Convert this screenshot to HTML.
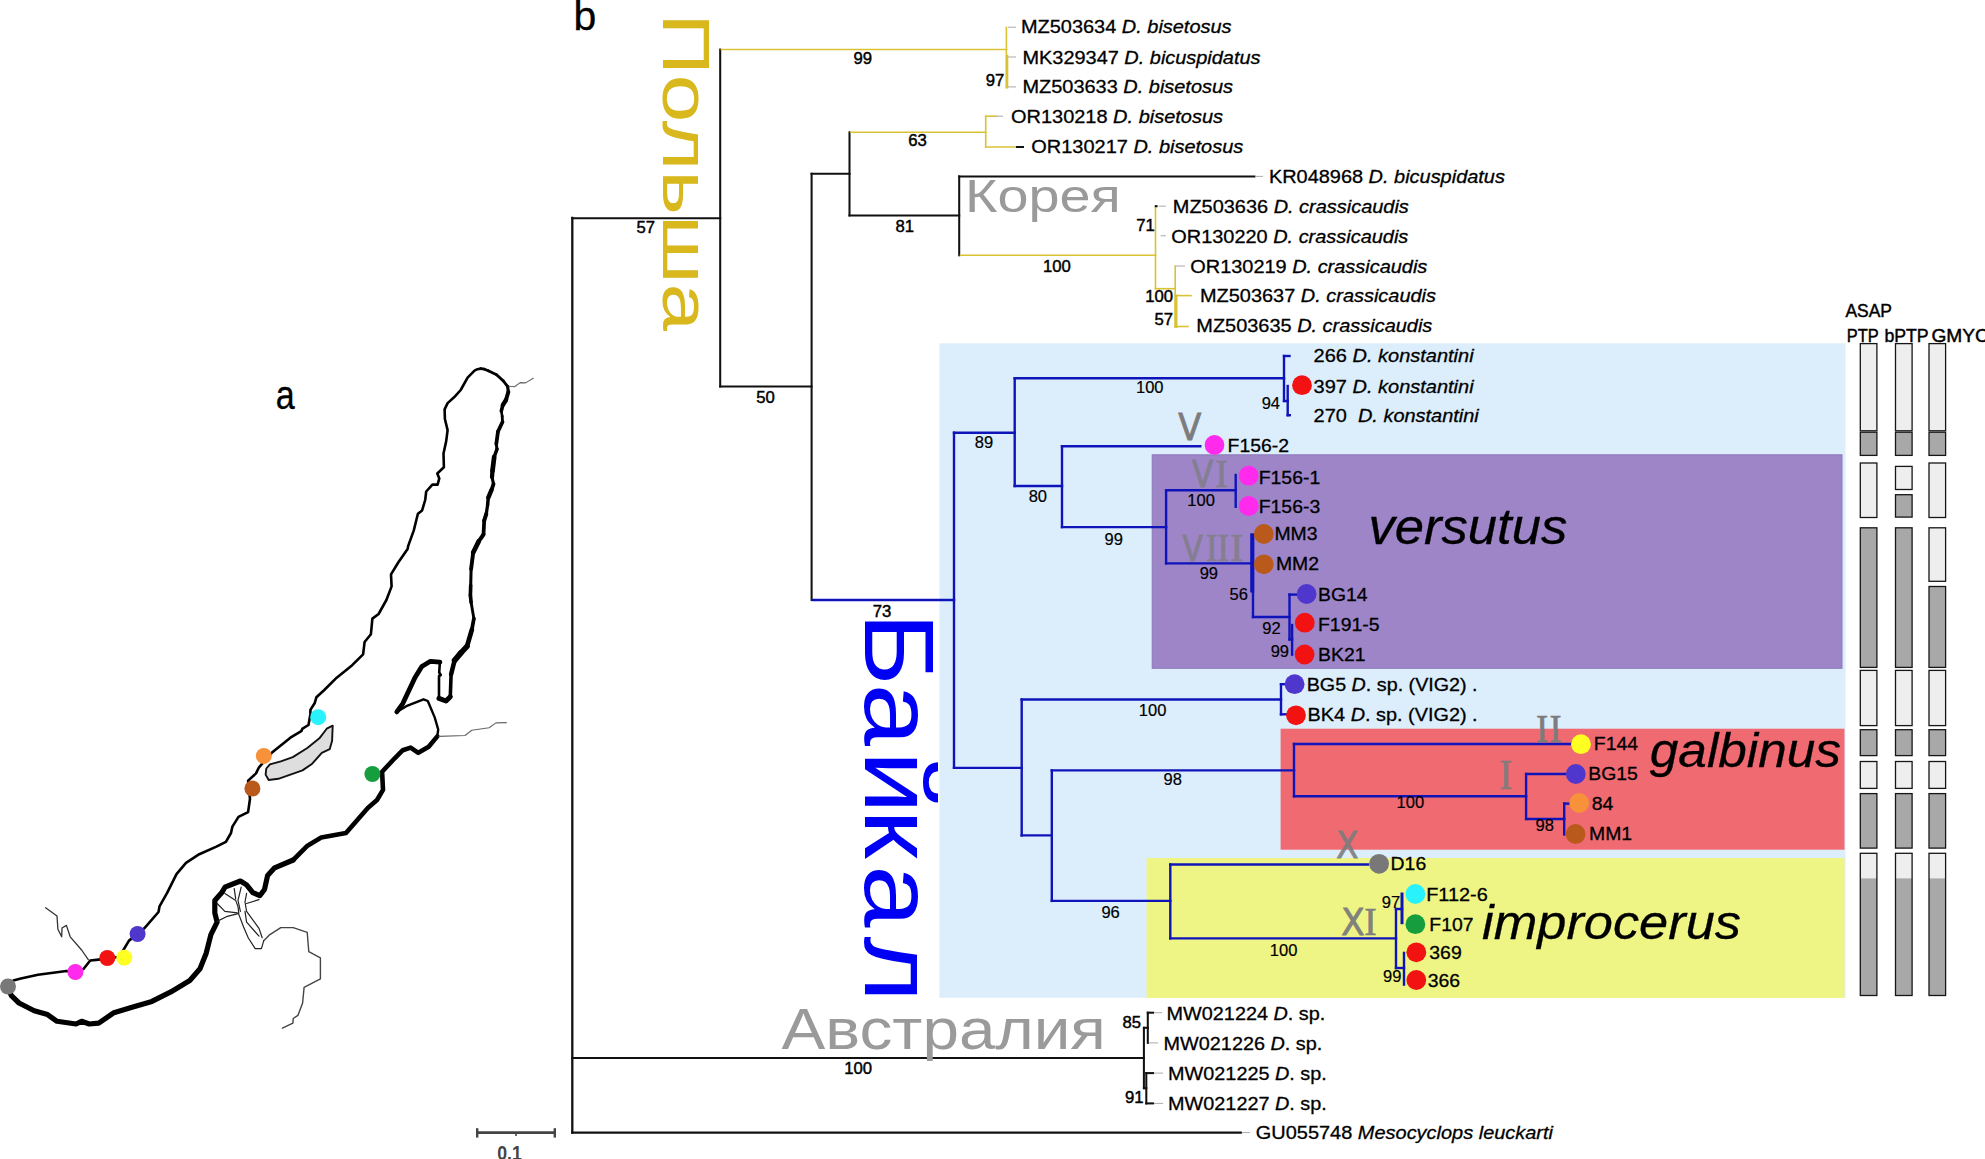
<!DOCTYPE html>
<html><head><meta charset="utf-8"><title>Figure</title>
<style>
html,body{margin:0;padding:0;background:#fff;}
body{width:1985px;height:1159px;overflow:hidden;}
svg{display:block;font-family:"Liberation Sans",sans-serif;}
text.k{stroke:#000;stroke-width:0.3px;}
</style></head><body>
<svg width="1985" height="1159" viewBox="0 0 1985 1159">
<rect width="1985" height="1159" fill="#fff"/>
<rect x="939.4" y="343.3" width="906.1" height="654.5" fill="#DCEEFC"/>
<rect x="1152.2" y="454.8" width="689.8" height="213.5" fill="#9D85C8" stroke="#8E78BA" stroke-width="1"/>
<rect x="1280.6" y="728.7" width="563.9" height="121.0" fill="#F06A72"/>
<rect x="1146.6" y="858.0" width="697.9" height="140.0" fill="#EEF584"/>
<line x1="572.3" y1="218" x2="572.3" y2="1132.6" stroke="#111" stroke-width="2.3" stroke-linecap="square"/>
<line x1="572.3" y1="1132.6" x2="1240.7" y2="1132.6" stroke="#111" stroke-width="2.3" stroke-linecap="square"/>
<line x1="1242" y1="1132.6" x2="1250" y2="1132.6" stroke="#aaa" stroke-width="1" stroke-linecap="butt"/>
<line x1="572.3" y1="1058" x2="1143.9" y2="1058" stroke="#111" stroke-width="2.05" stroke-linecap="square"/>
<line x1="572.3" y1="218.3" x2="720.2" y2="218.3" stroke="#111" stroke-width="2.05" stroke-linecap="square"/>
<line x1="720.2" y1="49.5" x2="720.2" y2="386.4" stroke="#111" stroke-width="2.05" stroke-linecap="square"/>
<line x1="720.2" y1="386.4" x2="811.6" y2="386.4" stroke="#111" stroke-width="2.05" stroke-linecap="square"/>
<line x1="811.6" y1="173.8" x2="811.6" y2="600" stroke="#111" stroke-width="2.05" stroke-linecap="square"/>
<line x1="811.6" y1="173.8" x2="849.5" y2="173.8" stroke="#111" stroke-width="2.05" stroke-linecap="square"/>
<line x1="849.5" y1="132.3" x2="849.5" y2="215.4" stroke="#111" stroke-width="2.05" stroke-linecap="square"/>
<line x1="849.5" y1="215.4" x2="959.2" y2="215.4" stroke="#111" stroke-width="2.05" stroke-linecap="square"/>
<line x1="959.2" y1="176.4" x2="959.2" y2="255.3" stroke="#111" stroke-width="2.05" stroke-linecap="square"/>
<line x1="959.2" y1="176.4" x2="1254.4" y2="176.4" stroke="#111" stroke-width="2.05" stroke-linecap="square"/>
<line x1="1256" y1="176.4" x2="1263" y2="176.4" stroke="#aaa" stroke-width="1" stroke-linecap="butt"/>
<line x1="1143.9" y1="1027.8" x2="1143.9" y2="1088.2" stroke="#111" stroke-width="2.05" stroke-linecap="square"/>
<line x1="1143.9" y1="1027.8" x2="1147.8" y2="1027.8" stroke="#111" stroke-width="2.05" stroke-linecap="square"/>
<line x1="1147.8" y1="1012.7" x2="1147.8" y2="1042.9" stroke="#111" stroke-width="2.05" stroke-linecap="square"/>
<line x1="1147.8" y1="1012.7" x2="1153" y2="1012.7" stroke="#111" stroke-width="2.05" stroke-linecap="square"/>
<line x1="1154" y1="1012.7" x2="1162" y2="1012.7" stroke="#aaa" stroke-width="1" stroke-linecap="butt"/>
<line x1="1149" y1="1042.9" x2="1158" y2="1042.9" stroke="#aaa" stroke-width="1" stroke-linecap="butt"/>
<line x1="1143.9" y1="1088.2" x2="1146.3" y2="1088.2" stroke="#111" stroke-width="2.05" stroke-linecap="square"/>
<line x1="1146.3" y1="1073.1" x2="1146.3" y2="1103.4" stroke="#111" stroke-width="2.05" stroke-linecap="square"/>
<line x1="1146.3" y1="1073.1" x2="1153" y2="1073.1" stroke="#111" stroke-width="2.05" stroke-linecap="square"/>
<line x1="1154" y1="1073.1" x2="1163" y2="1073.1" stroke="#aaa" stroke-width="1" stroke-linecap="butt"/>
<line x1="1146.3" y1="1103.4" x2="1153" y2="1103.4" stroke="#111" stroke-width="2.05" stroke-linecap="square"/>
<line x1="1154" y1="1103.4" x2="1163" y2="1103.4" stroke="#aaa" stroke-width="1" stroke-linecap="butt"/>
<line x1="721.4" y1="49.5" x2="1006.5" y2="49.5" stroke="#D9C334" stroke-width="1.6" stroke-linecap="square"/>
<line x1="1006.4" y1="27.4" x2="1006.4" y2="86.9" stroke="#D9C334" stroke-width="1.6" stroke-linecap="square"/>
<line x1="1007" y1="56" x2="1007" y2="87.3" stroke="#D9C334" stroke-width="2.6" stroke-linecap="square"/>
<line x1="1008" y1="27.2" x2="1016" y2="27.2" stroke="#aaa" stroke-width="1" stroke-linecap="butt"/>
<line x1="1008" y1="57" x2="1016" y2="57" stroke="#aaa" stroke-width="1" stroke-linecap="butt"/>
<line x1="1008" y1="86.9" x2="1016" y2="86.9" stroke="#aaa" stroke-width="1" stroke-linecap="butt"/>
<line x1="850.7" y1="132.3" x2="985.7" y2="132.3" stroke="#D9C334" stroke-width="1.6" stroke-linecap="square"/>
<line x1="985.7" y1="116.2" x2="985.7" y2="147" stroke="#D9C334" stroke-width="1.6" stroke-linecap="square"/>
<line x1="985.7" y1="116.2" x2="996" y2="116.2" stroke="#D9C334" stroke-width="1.6" stroke-linecap="square"/>
<line x1="996" y1="116.2" x2="1003" y2="116.2" stroke="#aaa" stroke-width="1" stroke-linecap="butt"/>
<line x1="985.7" y1="147" x2="1016" y2="147" stroke="#D9C334" stroke-width="1.6" stroke-linecap="square"/>
<line x1="1017" y1="147" x2="1023" y2="147" stroke="#111" stroke-width="2.05" stroke-linecap="square"/>
<line x1="960.5" y1="255.3" x2="1155.5" y2="255.3" stroke="#D9C334" stroke-width="1.6" stroke-linecap="square"/>
<line x1="1155.5" y1="206.2" x2="1155.5" y2="288.7" stroke="#D9C334" stroke-width="1.6" stroke-linecap="square"/>
<line x1="1155.8" y1="206.2" x2="1156.6" y2="206.2" stroke="#111" stroke-width="2.05" stroke-linecap="square"/>
<line x1="1159" y1="206.2" x2="1166" y2="206.2" stroke="#aaa" stroke-width="1" stroke-linecap="butt"/>
<line x1="1160.5" y1="235.8" x2="1166" y2="235.8" stroke="#aaa" stroke-width="1" stroke-linecap="butt"/>
<line x1="1155.5" y1="288.7" x2="1175.2" y2="288.7" stroke="#D9C334" stroke-width="1.6" stroke-linecap="square"/>
<line x1="1175.2" y1="266" x2="1175.2" y2="326.5" stroke="#D9C334" stroke-width="1.6" stroke-linecap="square"/>
<line x1="1176" y1="296" x2="1176" y2="326.5" stroke="#D9C334" stroke-width="3" stroke-linecap="square"/>
<line x1="1176" y1="266" x2="1185" y2="266" stroke="#aaa" stroke-width="1" stroke-linecap="butt"/>
<line x1="1175.2" y1="295.6" x2="1191" y2="295.6" stroke="#D9C334" stroke-width="1.6" stroke-linecap="square"/>
<line x1="1175.2" y1="326.5" x2="1188" y2="326.5" stroke="#D9C334" stroke-width="1.6" stroke-linecap="square"/>
<line x1="812.8" y1="600" x2="954" y2="600" stroke="#0F14BA" stroke-width="2.4" stroke-linecap="square"/>
<line x1="954" y1="432.7" x2="954" y2="767.9" stroke="#0F14BA" stroke-width="2.4" stroke-linecap="square"/>
<line x1="954" y1="432.7" x2="1014.7" y2="432.7" stroke="#0F14BA" stroke-width="2.4" stroke-linecap="square"/>
<line x1="1014.7" y1="378.4" x2="1014.7" y2="486" stroke="#0F14BA" stroke-width="2.4" stroke-linecap="square"/>
<line x1="1014.7" y1="378.2" x2="1284" y2="378.2" stroke="#0F14BA" stroke-width="2.4" stroke-linecap="square"/>
<line x1="1284" y1="356" x2="1284" y2="401" stroke="#0F14BA" stroke-width="2.4" stroke-linecap="square"/>
<line x1="1284" y1="356" x2="1289.5" y2="356" stroke="#0F14BA" stroke-width="2.4" stroke-linecap="square"/>
<line x1="1284" y1="401" x2="1287.7" y2="401" stroke="#0F14BA" stroke-width="2.4" stroke-linecap="square"/>
<line x1="1287.7" y1="386" x2="1287.7" y2="415.2" stroke="#0F14BA" stroke-width="2.4" stroke-linecap="square"/>
<line x1="1287.7" y1="415.2" x2="1289.8" y2="415.2" stroke="#0F14BA" stroke-width="2.4" stroke-linecap="square"/>
<line x1="1014.7" y1="486" x2="1062" y2="486" stroke="#0F14BA" stroke-width="2.4" stroke-linecap="square"/>
<line x1="1062" y1="446.3" x2="1062" y2="527.1" stroke="#0F14BA" stroke-width="2.4" stroke-linecap="square"/>
<line x1="1062" y1="446.3" x2="1200.3" y2="446.3" stroke="#0F14BA" stroke-width="2.4" stroke-linecap="square"/>
<line x1="1062" y1="527.1" x2="1166.1" y2="527.1" stroke="#0F14BA" stroke-width="2.4" stroke-linecap="square"/>
<line x1="1166.1" y1="490.2" x2="1166.1" y2="563.4" stroke="#0F14BA" stroke-width="2.4" stroke-linecap="square"/>
<line x1="1166.1" y1="490.2" x2="1235.7" y2="490.2" stroke="#0F14BA" stroke-width="2.4" stroke-linecap="square"/>
<line x1="1235.7" y1="475" x2="1235.7" y2="506.8" stroke="#0F14BA" stroke-width="2.4" stroke-linecap="square"/>
<line x1="1166.1" y1="563.4" x2="1252" y2="563.4" stroke="#0F14BA" stroke-width="2.4" stroke-linecap="square"/>
<line x1="1253" y1="535.3" x2="1253" y2="617" stroke="#0F14BA" stroke-width="2.4" stroke-linecap="square"/>
<line x1="1252.2" y1="535.3" x2="1252.2" y2="590.5" stroke="#0F14BA" stroke-width="4" stroke-linecap="square"/>
<line x1="1253" y1="617" x2="1289.5" y2="617" stroke="#0F14BA" stroke-width="2.4" stroke-linecap="square"/>
<line x1="1289.5" y1="594.6" x2="1289.5" y2="639.5" stroke="#0F14BA" stroke-width="2.4" stroke-linecap="square"/>
<line x1="1289.5" y1="594.6" x2="1297" y2="594.6" stroke="#0F14BA" stroke-width="2.4" stroke-linecap="square"/>
<line x1="1289.5" y1="639.3" x2="1292.1" y2="639.3" stroke="#0F14BA" stroke-width="2.4" stroke-linecap="square"/>
<line x1="1292.1" y1="625" x2="1292.1" y2="654.6" stroke="#0F14BA" stroke-width="2.4" stroke-linecap="square"/>
<line x1="954" y1="767.9" x2="1021.7" y2="767.9" stroke="#0F14BA" stroke-width="2.4" stroke-linecap="square"/>
<line x1="1021.7" y1="699.5" x2="1021.7" y2="835.4" stroke="#0F14BA" stroke-width="2.4" stroke-linecap="square"/>
<line x1="1021.7" y1="699.5" x2="1281" y2="699.5" stroke="#0F14BA" stroke-width="2.4" stroke-linecap="square"/>
<line x1="1281" y1="684.2" x2="1281" y2="714.3" stroke="#0F14BA" stroke-width="2.4" stroke-linecap="square"/>
<line x1="1281" y1="684.2" x2="1287" y2="684.2" stroke="#0F14BA" stroke-width="2.4" stroke-linecap="square"/>
<line x1="1281" y1="714.3" x2="1288" y2="714.3" stroke="#0F14BA" stroke-width="2.4" stroke-linecap="square"/>
<line x1="1021.7" y1="835.4" x2="1051.8" y2="835.4" stroke="#0F14BA" stroke-width="2.4" stroke-linecap="square"/>
<line x1="1051.8" y1="770.4" x2="1051.8" y2="900.9" stroke="#0F14BA" stroke-width="2.4" stroke-linecap="square"/>
<line x1="1051.8" y1="770.4" x2="1294" y2="770.4" stroke="#0F14BA" stroke-width="2.4" stroke-linecap="square"/>
<line x1="1294" y1="744" x2="1294" y2="796.3" stroke="#0F14BA" stroke-width="2.4" stroke-linecap="square"/>
<line x1="1294" y1="744" x2="1571.8" y2="744" stroke="#0F14BA" stroke-width="2.4" stroke-linecap="square"/>
<line x1="1294" y1="796.3" x2="1526.1" y2="796.3" stroke="#0F14BA" stroke-width="2.4" stroke-linecap="square"/>
<line x1="1526.1" y1="774" x2="1526.1" y2="819" stroke="#0F14BA" stroke-width="2.4" stroke-linecap="square"/>
<line x1="1526.1" y1="774" x2="1567" y2="774" stroke="#0F14BA" stroke-width="2.4" stroke-linecap="square"/>
<line x1="1526.1" y1="819" x2="1564.2" y2="819" stroke="#0F14BA" stroke-width="2.4" stroke-linecap="square"/>
<line x1="1564.2" y1="803.6" x2="1564.2" y2="834.5" stroke="#0F14BA" stroke-width="2.4" stroke-linecap="square"/>
<line x1="1564.2" y1="803.6" x2="1570" y2="803.6" stroke="#0F14BA" stroke-width="2.4" stroke-linecap="square"/>
<line x1="1051.8" y1="900.9" x2="1170.3" y2="900.9" stroke="#0F14BA" stroke-width="2.4" stroke-linecap="square"/>
<line x1="1170.3" y1="864.5" x2="1170.3" y2="938.4" stroke="#0F14BA" stroke-width="2.4" stroke-linecap="square"/>
<line x1="1170.3" y1="864.5" x2="1368" y2="864.5" stroke="#0F14BA" stroke-width="2.4" stroke-linecap="square"/>
<line x1="1170.3" y1="938.4" x2="1396" y2="938.4" stroke="#0F14BA" stroke-width="2.4" stroke-linecap="square"/>
<line x1="1396" y1="909" x2="1396" y2="968" stroke="#0F14BA" stroke-width="2.4" stroke-linecap="square"/>
<line x1="1396" y1="909" x2="1402" y2="909" stroke="#0F14BA" stroke-width="2.4" stroke-linecap="square"/>
<line x1="1402" y1="894" x2="1402" y2="922.7" stroke="#0F14BA" stroke-width="3" stroke-linecap="square"/>
<line x1="1396" y1="968" x2="1404" y2="968" stroke="#0F14BA" stroke-width="2.4" stroke-linecap="square"/>
<line x1="1404" y1="952.9" x2="1404" y2="984.6" stroke="#0F14BA" stroke-width="2.4" stroke-linecap="square"/>
<text transform="translate(662.5,13.2) rotate(90)" font-size="67.5" fill="#D8B81C" textLength="318" lengthAdjust="spacingAndGlyphs">Польша</text>
<text transform="translate(865.2,615) rotate(90) scale(1.15,1)" font-size="97.5" fill="#0000F5" x="-2.4 59.8 118.2 169.2 217.7 279.5">Байкал</text>
<text x="965.1" y="211.6" font-size="45.5" fill="#9A9A9A" textLength="155.7" lengthAdjust="spacingAndGlyphs">Корея</text>
<text x="781.6" y="1049" font-size="57" fill="#9A9A9A" textLength="324.3" lengthAdjust="spacingAndGlyphs">Австралия</text>
<text y="440.1" fill="#7c7c7c" stroke="#7c7c7c" opacity="1.0"><tspan x="1178.33" font-family="DejaVu Sans,sans-serif" font-size="37.6" stroke-width="0.9" textLength="23.07" lengthAdjust="spacingAndGlyphs">V</tspan></text>
<text y="487.1" fill="#7c7c7c" stroke="#7c7c7c" opacity="0.72"><tspan x="1192.05" font-family="DejaVu Sans,sans-serif" font-size="36.6" stroke-width="0.9" textLength="21.33" lengthAdjust="spacingAndGlyphs">V</tspan><tspan x="1215.24" font-family="Liberation Serif,serif" font-size="40.8" stroke-width="0.7" textLength="12.58" lengthAdjust="spacingAndGlyphs">I</tspan></text>
<text y="561.2" fill="#7c7c7c" stroke="#7c7c7c" opacity="0.72"><tspan x="1182.46" font-family="DejaVu Sans,sans-serif" font-size="35.1" stroke-width="0.9" textLength="20.41" lengthAdjust="spacingAndGlyphs">V</tspan><tspan x="1206.02" font-family="Liberation Serif,serif" font-size="39.1" stroke-width="0.7" textLength="11.82" lengthAdjust="spacingAndGlyphs">I</tspan><tspan x="1217.31" font-family="Liberation Serif,serif" font-size="39.1" stroke-width="0.7" textLength="11.95" lengthAdjust="spacingAndGlyphs">I</tspan><tspan x="1230.17" font-family="Liberation Serif,serif" font-size="39.1" stroke-width="0.7" textLength="13.22" lengthAdjust="spacingAndGlyphs">I</tspan></text>
<text y="742.3" fill="#7c7c7c" stroke="#7c7c7c" opacity="1.0"><tspan x="1535.98" font-family="Liberation Serif,serif" font-size="41.1" stroke-width="0.7" textLength="12.20" lengthAdjust="spacingAndGlyphs">I</tspan><tspan x="1549.49" font-family="Liberation Serif,serif" font-size="41.1" stroke-width="0.7" textLength="12.07" lengthAdjust="spacingAndGlyphs">I</tspan></text>
<text y="788.9" fill="#7c7c7c" stroke="#7c7c7c" opacity="0.9"><tspan x="1499.44" font-family="Liberation Serif,serif" font-size="41.5" stroke-width="0.7" textLength="12.58" lengthAdjust="spacingAndGlyphs">I</tspan></text>
<text y="858.3" fill="#7c7c7c" stroke="#7c7c7c" opacity="0.9"><tspan x="1336.13" font-family="DejaVu Sans,sans-serif" font-size="38.0" stroke-width="0.9" textLength="22.25" lengthAdjust="spacingAndGlyphs">X</tspan></text>
<text y="934.9" fill="#7c7c7c" stroke="#7c7c7c" opacity="0.95"><tspan x="1341.28" font-family="DejaVu Sans,sans-serif" font-size="36.9" stroke-width="0.9" textLength="23.35" lengthAdjust="spacingAndGlyphs">X</tspan><tspan x="1364.25" font-family="Liberation Serif,serif" font-size="41.1" stroke-width="0.7" textLength="12.46" lengthAdjust="spacingAndGlyphs">I</tspan></text>
<text x="1368.5" y="544.4" font-size="49.5" fill="#000" textLength="198.7" lengthAdjust="spacingAndGlyphs" font-style="italic" class="k">versutus</text>
<text x="1649.8" y="767" font-size="49" fill="#000" textLength="191.2" lengthAdjust="spacingAndGlyphs" font-style="italic" class="k">galbinus</text>
<text x="1482" y="938.6" font-size="49" fill="#000" textLength="259" lengthAdjust="spacingAndGlyphs" font-style="italic" class="k">improcerus</text>
<text x="1021" y="33.4" font-size="18.7" fill="#000" textLength="210.5" lengthAdjust="spacingAndGlyphs" class="k">MZ503634 <tspan font-style="italic">D. bisetosus</tspan></text>
<text x="1022.5" y="63.5" font-size="18.7" fill="#000" textLength="238" lengthAdjust="spacingAndGlyphs" class="k">MK329347 <tspan font-style="italic">D. bicuspidatus</tspan></text>
<text x="1022.5" y="93.2" font-size="18.7" fill="#000" textLength="210.5" lengthAdjust="spacingAndGlyphs" class="k">MZ503633 <tspan font-style="italic">D. bisetosus</tspan></text>
<text x="1011" y="123.1" font-size="18.7" fill="#000" textLength="212" lengthAdjust="spacingAndGlyphs" class="k">OR130218 <tspan font-style="italic">D. bisetosus</tspan></text>
<text x="1031.3" y="153.0" font-size="18.7" fill="#000" textLength="212" lengthAdjust="spacingAndGlyphs" class="k">OR130217 <tspan font-style="italic">D. bisetosus</tspan></text>
<text x="1268.9" y="182.9" font-size="18.7" fill="#000" textLength="236" lengthAdjust="spacingAndGlyphs" class="k">KR048968 <tspan font-style="italic">D. bicuspidatus</tspan></text>
<text x="1172.8" y="212.9" font-size="18.7" fill="#000" textLength="236" lengthAdjust="spacingAndGlyphs" class="k">MZ503636 <tspan font-style="italic">D. crassicaudis</tspan></text>
<text x="1171.3" y="242.5" font-size="18.7" fill="#000" textLength="237" lengthAdjust="spacingAndGlyphs" class="k">OR130220 <tspan font-style="italic">D. crassicaudis</tspan></text>
<text x="1190.3" y="272.7" font-size="18.7" fill="#000" textLength="237" lengthAdjust="spacingAndGlyphs" class="k">OR130219 <tspan font-style="italic">D. crassicaudis</tspan></text>
<text x="1200" y="302.3" font-size="18.7" fill="#000" textLength="236" lengthAdjust="spacingAndGlyphs" class="k">MZ503637 <tspan font-style="italic">D. crassicaudis</tspan></text>
<text x="1196.3" y="332.3" font-size="18.7" fill="#000" textLength="236" lengthAdjust="spacingAndGlyphs" class="k">MZ503635 <tspan font-style="italic">D. crassicaudis</tspan></text>
<text x="1313.6" y="362.4" font-size="18.7" fill="#000" textLength="160" lengthAdjust="spacingAndGlyphs" class="k">266 <tspan font-style="italic">D. konstantini</tspan></text>
<text x="1313.6" y="392.6" font-size="18.7" fill="#000" textLength="160" lengthAdjust="spacingAndGlyphs" class="k">397 <tspan font-style="italic">D. konstantini</tspan></text>
<text x="1313.6" y="422.1" font-size="18.7" fill="#000" textLength="165.2" lengthAdjust="spacingAndGlyphs" class="k">270&#160; <tspan font-style="italic">D. konstantini</tspan></text>
<text x="1306.7" y="690.9" font-size="18.7" fill="#000" textLength="170.9" lengthAdjust="spacingAndGlyphs" class="k">BG5 <tspan font-style="italic">D</tspan>. sp. (VIG2) .</text>
<text x="1307.6" y="721.2" font-size="18.7" fill="#000" textLength="170" lengthAdjust="spacingAndGlyphs" class="k">BK4 <tspan font-style="italic">D</tspan>. sp. (VIG2) .</text>
<text x="1166.6" y="1020.0" font-size="18.7" fill="#000" textLength="158.7" lengthAdjust="spacingAndGlyphs" class="k">MW021224 <tspan font-style="italic">D</tspan>. sp.</text>
<text x="1163.6" y="1050.2" font-size="18.7" fill="#000" textLength="158.7" lengthAdjust="spacingAndGlyphs" class="k">MW021226 <tspan font-style="italic">D</tspan>. sp.</text>
<text x="1168.1" y="1079.8" font-size="18.7" fill="#000" textLength="158.7" lengthAdjust="spacingAndGlyphs" class="k">MW021225 <tspan font-style="italic">D</tspan>. sp.</text>
<text x="1168.1" y="1109.5" font-size="18.7" fill="#000" textLength="158.7" lengthAdjust="spacingAndGlyphs" class="k">MW021227 <tspan font-style="italic">D</tspan>. sp.</text>
<text x="1255.8" y="1138.8" font-size="18.7" fill="#000" textLength="297.2" lengthAdjust="spacingAndGlyphs" class="k">GU055748 <tspan font-style="italic">Mesocyclops leuckarti</tspan></text>
<text x="1227.6" y="451.5" font-size="19" fill="#000" textLength="61.5" lengthAdjust="spacingAndGlyphs" class="k">F156-2</text>
<text x="1258.7" y="483.8" font-size="19" fill="#000" textLength="61.5" lengthAdjust="spacingAndGlyphs" class="k">F156-1</text>
<text x="1258.7" y="513.4" font-size="19" fill="#000" textLength="61.5" lengthAdjust="spacingAndGlyphs" class="k">F156-3</text>
<text x="1274.4" y="539.6" font-size="19" fill="#000" textLength="43.1" lengthAdjust="spacingAndGlyphs" class="k">MM3</text>
<text x="1275.9" y="569.6" font-size="19" fill="#000" textLength="43.1" lengthAdjust="spacingAndGlyphs" class="k">MM2</text>
<text x="1318" y="601.0" font-size="19" fill="#000" textLength="49.6" lengthAdjust="spacingAndGlyphs" class="k">BG14</text>
<text x="1318" y="630.6" font-size="19" fill="#000" textLength="61.5" lengthAdjust="spacingAndGlyphs" class="k">F191-5</text>
<text x="1318" y="660.5" font-size="19" fill="#000" textLength="47.5" lengthAdjust="spacingAndGlyphs" class="k">BK21</text>
<text x="1593.8" y="750.0" font-size="19" fill="#000" textLength="44.2" lengthAdjust="spacingAndGlyphs" class="k">F144</text>
<text x="1588.3" y="780.3" font-size="19" fill="#000" textLength="49.6" lengthAdjust="spacingAndGlyphs" class="k">BG15</text>
<text x="1591.8" y="809.8" font-size="19" fill="#000" textLength="21.6" lengthAdjust="spacingAndGlyphs" class="k">84</text>
<text x="1589" y="840.1" font-size="19" fill="#000" textLength="43.1" lengthAdjust="spacingAndGlyphs" class="k">MM1</text>
<text x="1390.6" y="869.7" font-size="19" fill="#000" textLength="35.6" lengthAdjust="spacingAndGlyphs" class="k">D16</text>
<text x="1426.2" y="900.8" font-size="19" fill="#000" textLength="61.5" lengthAdjust="spacingAndGlyphs" class="k">F112-6</text>
<text x="1429.3" y="930.8" font-size="19" fill="#000" textLength="44.2" lengthAdjust="spacingAndGlyphs" class="k">F107</text>
<text x="1429.3" y="959.1" font-size="19" fill="#000" textLength="32.4" lengthAdjust="spacingAndGlyphs" class="k">369</text>
<text x="1427.7" y="986.8" font-size="19" fill="#000" textLength="32.4" lengthAdjust="spacingAndGlyphs" class="k">366</text>
<circle cx="1302" cy="385.2" r="9.9" fill="#F21212"/>
<circle cx="1214.5" cy="444.9" r="9.9" fill="#FF2AEC"/>
<circle cx="1248.7" cy="475.7" r="9.9" fill="#FF2AEC"/>
<circle cx="1248.7" cy="506" r="9.9" fill="#FF2AEC"/>
<circle cx="1263.8" cy="534" r="9.9" fill="#B9591C"/>
<circle cx="1263.8" cy="564.3" r="9.9" fill="#B9591C"/>
<circle cx="1306.6" cy="594" r="9.9" fill="#4F36CC"/>
<circle cx="1304.8" cy="622.7" r="9.9" fill="#F21212"/>
<circle cx="1304.6" cy="654.5" r="9.9" fill="#F21212"/>
<circle cx="1294.6" cy="684.2" r="9.9" fill="#4F36CC"/>
<circle cx="1296" cy="715.3" r="9.9" fill="#F21212"/>
<circle cx="1581" cy="744.2" r="9.9" fill="#FFFF22"/>
<circle cx="1575.8" cy="774" r="9.9" fill="#4F36CC"/>
<circle cx="1579.2" cy="803" r="9.9" fill="#F7923A"/>
<circle cx="1575.6" cy="834" r="9.9" fill="#B9591C"/>
<circle cx="1379.1" cy="863.8" r="9.9" fill="#787878"/>
<circle cx="1415.4" cy="894" r="9.9" fill="#2AF2FC"/>
<circle cx="1415.4" cy="924.2" r="9.9" fill="#169E3E"/>
<circle cx="1416.3" cy="952.3" r="9.9" fill="#F21212"/>
<circle cx="1416.3" cy="980" r="9.9" fill="#F21212"/>
<text x="853.6" y="64.4" font-size="16.7" fill="#000" stroke="#000" stroke-width="0.45">99</text>
<text x="985.8" y="86.0" font-size="16.7" fill="#000" stroke="#000" stroke-width="0.45">97</text>
<text x="908.3" y="146.0" font-size="16.7" fill="#000" stroke="#000" stroke-width="0.45">63</text>
<text x="636.5" y="233.3" font-size="16.7" fill="#000" stroke="#000" stroke-width="0.45">57</text>
<text x="895.6" y="232.3" font-size="16.7" fill="#000" stroke="#000" stroke-width="0.45">81</text>
<text x="1136.3" y="231.2" font-size="16.7" fill="#000" stroke="#000" stroke-width="0.45">71</text>
<text x="1043" y="272.0" font-size="16.7" fill="#000" stroke="#000" stroke-width="0.45">100</text>
<text x="1145.2" y="302.3" font-size="16.7" fill="#000" stroke="#000" stroke-width="0.45">100</text>
<text x="1154.4" y="325.0" font-size="16.7" fill="#000" stroke="#000" stroke-width="0.45">57</text>
<text x="756.2" y="402.6" font-size="16.7" fill="#000" stroke="#000" stroke-width="0.45">50</text>
<text x="872.8" y="617.0" font-size="16.7" fill="#000" stroke="#000" stroke-width="0.45">73</text>
<text x="1122.6" y="1027.7" font-size="16.7" fill="#000" stroke="#000" stroke-width="0.45">85</text>
<text x="1125" y="1103.3" font-size="16.7" fill="#000" stroke="#000" stroke-width="0.45">91</text>
<text x="844.2" y="1074.0" font-size="16.7" fill="#000" stroke="#000" stroke-width="0.45">100</text>
<text x="1136" y="393.3" font-size="16.5" fill="#000" stroke="#000" stroke-width="0.2">100</text>
<text x="1261.7" y="408.5" font-size="16.5" fill="#000" stroke="#000" stroke-width="0.2">94</text>
<text x="974.8" y="448.4" font-size="16.5" fill="#000" stroke="#000" stroke-width="0.2">89</text>
<text x="1028.7" y="501.6" font-size="16.5" fill="#000" stroke="#000" stroke-width="0.2">80</text>
<text x="1104.5" y="544.5" font-size="16.5" fill="#000" stroke="#000" stroke-width="0.2">99</text>
<text x="1187.3" y="506.1" font-size="16.5" fill="#000" stroke="#000" stroke-width="0.2">100</text>
<text x="1199.7" y="579.2" font-size="16.5" fill="#000" stroke="#000" stroke-width="0.2">99</text>
<text x="1229.6" y="600.4" font-size="16.5" fill="#000" stroke="#000" stroke-width="0.2">56</text>
<text x="1262.3" y="633.7" font-size="16.5" fill="#000" stroke="#000" stroke-width="0.2">92</text>
<text x="1270.7" y="657.2" font-size="16.5" fill="#000" stroke="#000" stroke-width="0.2">99</text>
<text x="1138.8" y="715.5" font-size="16.5" fill="#000" stroke="#000" stroke-width="0.2">100</text>
<text x="1163.5" y="785.1" font-size="16.5" fill="#000" stroke="#000" stroke-width="0.2">98</text>
<text x="1101.4" y="917.6" font-size="16.5" fill="#000" stroke="#000" stroke-width="0.2">96</text>
<text x="1396.6" y="808.4" font-size="16.5" fill="#000" stroke="#000" stroke-width="0.2">100</text>
<text x="1535.5" y="831.2" font-size="16.5" fill="#000" stroke="#000" stroke-width="0.2">98</text>
<text x="1381.8" y="907.6" font-size="16.5" fill="#000" stroke="#000" stroke-width="0.2">97</text>
<text x="1269.8" y="956.4" font-size="16.5" fill="#000" stroke="#000" stroke-width="0.2">100</text>
<text x="1383" y="982.3" font-size="16.5" fill="#000" stroke="#000" stroke-width="0.2">99</text>
<text x="573.5" y="29.8" font-size="41" fill="#000" class="k">b</text>
<text x="275.8" y="408.6" font-size="41" fill="#000" textLength="19" lengthAdjust="spacingAndGlyphs" class="k">a</text>
<path d="M480.8,368.6 L477.5,369.2 L474.5,370.7 L467.6,377.6 L460.7,390.0 L455.2,396.2 L447.6,403.1 L444.6,409.4 L444.9,419.0 L447.6,430.1 L446.2,441.1 L443.5,453.5 L443.9,467.3 L437.3,473.5 L439.3,478.4 L437.6,484.6 L432.4,484.6 L426.2,491.5 L425.2,500.0 L422.1,510.4 L417.9,513.8 L413.8,530.4 L408.3,545.6 L407.6,549.0 L398.4,562.3 L391.0,574.4 L391.6,586.4 L386.4,600.0 L378.6,614.0 L372.4,618.6 L370.9,634.2 L364.6,642.0 L363.1,654.4 L352.2,665.2 L336.7,677.7 L324.3,690.0 L316.4,697.3 L314.6,703.3 L310.4,709.9 L310.4,714.2 L308.5,725.0 L302.5,728.7 L301.3,731.1 L290.4,737.7 L271.7,752.8 L259.0,767.3 L256.0,773.4 L248.1,780.6 L250.0,798.8 L248.1,812.1 L238.5,816.9 L232.4,826.6 L231.0,833.0 L225.9,841.9 L216.4,846.6 L199.3,854.2 L186.0,862.8 L176.5,874.2 L167.0,893.2 L159.5,906.4 L158.5,912.0 L144.3,928.3 L137.6,934.0 L129.0,940.6 L123.4,950.0 L118.0,957.0 L107.3,958.5 L98.7,959.6 L90.2,960.5 L83.5,969.0 L75.4,972.0 L66.4,971.0 L38.0,974.8 L20.9,978.6 L13.3,980.5 L8.0,986.5" fill="none" stroke="#000" stroke-width="2.6" stroke-linejoin="round" stroke-linecap="round"/>
<line x1="480.8" y1="368.6" x2="484.5" y2="369.2" stroke="#000" stroke-width="2.80" stroke-linecap="round"/>
<line x1="484.5" y1="369.2" x2="488.3" y2="370.7" stroke="#000" stroke-width="2.80" stroke-linecap="round"/>
<line x1="488.3" y1="370.7" x2="496.6" y2="374.8" stroke="#000" stroke-width="2.80" stroke-linecap="round"/>
<line x1="496.6" y1="374.8" x2="503.5" y2="381.1" stroke="#000" stroke-width="2.80" stroke-linecap="round"/>
<line x1="503.5" y1="381.1" x2="507.7" y2="386.6" stroke="#000" stroke-width="2.80" stroke-linecap="round"/>
<line x1="507.7" y1="386.6" x2="508.3" y2="392" stroke="#000" stroke-width="3.15" stroke-linecap="round"/>
<line x1="508.3" y1="392" x2="506" y2="400" stroke="#000" stroke-width="4.00" stroke-linecap="round"/>
<line x1="506" y1="400" x2="502.8" y2="405.2" stroke="#000" stroke-width="4.35" stroke-linecap="round"/>
<line x1="502.8" y1="405.2" x2="501.3" y2="411" stroke="#000" stroke-width="3.60" stroke-linecap="round"/>
<line x1="501.3" y1="411" x2="502.2" y2="416.3" stroke="#000" stroke-width="2.60" stroke-linecap="round"/>
<line x1="502.2" y1="416.3" x2="502.5" y2="422" stroke="#000" stroke-width="2.85" stroke-linecap="round"/>
<line x1="502.5" y1="422" x2="498" y2="431.5" stroke="#000" stroke-width="3.75" stroke-linecap="round"/>
<line x1="498" y1="431.5" x2="496.3" y2="443.9" stroke="#000" stroke-width="3.75" stroke-linecap="round"/>
<line x1="496.3" y1="443.9" x2="497" y2="449.2" stroke="#000" stroke-width="3.00" stroke-linecap="round"/>
<line x1="497" y1="449.2" x2="494.2" y2="457" stroke="#000" stroke-width="3.50" stroke-linecap="round"/>
<line x1="494.2" y1="457" x2="492.5" y2="470.7" stroke="#000" stroke-width="4.75" stroke-linecap="round"/>
<line x1="492.5" y1="470.7" x2="492" y2="477" stroke="#000" stroke-width="4.25" stroke-linecap="round"/>
<line x1="492" y1="477" x2="493.5" y2="484" stroke="#000" stroke-width="3.15" stroke-linecap="round"/>
<line x1="493.5" y1="484" x2="491.5" y2="490" stroke="#000" stroke-width="3.90" stroke-linecap="round"/>
<line x1="491.5" y1="490" x2="488.3" y2="497.7" stroke="#000" stroke-width="4.50" stroke-linecap="round"/>
<line x1="488.3" y1="497.7" x2="487.6" y2="505" stroke="#000" stroke-width="3.50" stroke-linecap="round"/>
<line x1="487.6" y1="505" x2="486.3" y2="513.8" stroke="#000" stroke-width="3.25" stroke-linecap="round"/>
<line x1="486.3" y1="513.8" x2="484.2" y2="520.7" stroke="#000" stroke-width="4.00" stroke-linecap="round"/>
<line x1="484.2" y1="520.7" x2="483.5" y2="534.5" stroke="#000" stroke-width="3.75" stroke-linecap="round"/>
<line x1="483.5" y1="534.5" x2="478.7" y2="541.4" stroke="#000" stroke-width="4.00" stroke-linecap="round"/>
<line x1="478.7" y1="541.4" x2="473.2" y2="552.5" stroke="#000" stroke-width="4.75" stroke-linecap="round"/>
<line x1="473.2" y1="552.5" x2="471.1" y2="569" stroke="#000" stroke-width="3.90" stroke-linecap="round"/>
<line x1="471.1" y1="569" x2="470.7" y2="585.6" stroke="#000" stroke-width="3.05" stroke-linecap="round"/>
<line x1="470.7" y1="585.6" x2="470.4" y2="595.3" stroke="#000" stroke-width="3.65" stroke-linecap="round"/>
<line x1="470.4" y1="595.3" x2="471.1" y2="602.2" stroke="#000" stroke-width="3.65" stroke-linecap="round"/>
<line x1="471.1" y1="602.2" x2="473.9" y2="618.7" stroke="#000" stroke-width="2.90" stroke-linecap="round"/>
<line x1="473.9" y1="618.7" x2="471.8" y2="629.8" stroke="#000" stroke-width="3.75" stroke-linecap="round"/>
<line x1="471.8" y1="629.8" x2="467" y2="646.3" stroke="#000" stroke-width="4.75" stroke-linecap="round"/>
<line x1="467" y1="646.3" x2="460.7" y2="653.2" stroke="#000" stroke-width="5.50" stroke-linecap="round"/>
<line x1="460.7" y1="653.2" x2="454.6" y2="660.4" stroke="#000" stroke-width="5.75" stroke-linecap="round"/>
<line x1="454.6" y1="660.4" x2="451.1" y2="674.2" stroke="#000" stroke-width="4.55" stroke-linecap="round"/>
<line x1="451.1" y1="674.2" x2="450.3" y2="696.7" stroke="#000" stroke-width="3.60" stroke-linecap="round"/>
<path d="M450.3,696.7 L446.0,701.0 L439.0,698.4" fill="none" stroke="#000" stroke-width="5" stroke-linejoin="round" stroke-linecap="round"/>
<path d="M439.0,698.4 L439.0,676.0 L440.8,675.0 L439.2,672.5 L439.9,662.1 L430.4,661.3" fill="none" stroke="#000" stroke-width="2.6" stroke-linejoin="round" stroke-linecap="round"/>
<path d="M439.9,662.1 L430.4,661.3 L421.8,666.5 L414.9,677.7 L402.8,703.6 L396.8,711.9" fill="none" stroke="#000" stroke-width="4.8" stroke-linejoin="round" stroke-linecap="round"/>
<path d="M396.8,711.9 L406.3,706.2 L423.5,699.3 L427.8,701.0 L434.7,717.4 L438.2,729.5 L437.3,736.4" fill="none" stroke="#000" stroke-width="2.4" stroke-linejoin="round" stroke-linecap="round"/>
<path d="M437.3,736.4 L428.7,746.7 L418.3,752.8 L410.6,747.6 L402.8,750.2 L394.2,758.8 L382.1,771.8 L383.0,789.9 L377.0,800.0 L367.8,808.0 L346.0,833.0 L321.2,837.6 L307.5,845.7 L293.2,860.0" fill="none" stroke="#000" stroke-width="4.6" stroke-linejoin="round" stroke-linecap="round"/>
<path d="M293.2,860.0 L274.6,867.8 L267.6,875.5 L264.5,889.5 L259.8,895.7 L252.8,892.6 L246.6,884.9 L240.4,881.0 L224.9,887.2 L221.8,892.6 L214.8,900.4 L214.8,912.8 L217.1,922.2 L210.9,934.6 L206.2,953.2 L200.0,968.8 L189.8,980.5 L170.8,991.9 L151.9,1001.4 L132.9,1007.0 L113.9,1012.7 L98.7,1023.2 L89.2,1024.0 L81.6,1021.3 L76.0,1024.0 L57.0,1021.3 L47.5,1014.6 L34.2,1010.8 L19.0,1003.0 L11.4,995.7 L8.0,988.0" fill="none" stroke="#000" stroke-width="5.2" stroke-linejoin="round" stroke-linecap="round"/>
<path d="M332.7,725.6 L326.7,728.7 L319.4,738.3 L307.3,748.0 L292.8,757.1 L280.8,761.3 L269.9,764.3 L266.3,768.5 L265.6,774.6 L268.7,780.0 L278.3,778.8 L302.5,770.4 L312.2,763.7 L321.8,752.8 L329.7,749.2 L332.1,740.8 Z" fill="#DEDEDE" stroke="#111" stroke-width="1.9" stroke-linejoin="round" stroke-linecap="round"/>
<path d="M509.0,386.2 L514.6,386.8 L520.1,382.6 L525.6,382.9 L533.2,378.3" fill="none" stroke="#666" stroke-width="1.1" stroke-linejoin="round" stroke-linecap="round"/>
<path d="M439.0,736.4 L465.0,735.5 L471.8,730.3 L489.1,727.7 L496.0,722.9 L506.4,722.6" fill="none" stroke="#666" stroke-width="1.1" stroke-linejoin="round" stroke-linecap="round"/>
<path d="M45.6,907.8 L57.0,916.0 L57.9,929.2 L61.7,936.8 L62.0,928.0 L66.4,925.4 L70.2,936.8 L81.6,950.0 L88.3,959.6" fill="none" stroke="#333" stroke-width="1.3" stroke-linejoin="round" stroke-linecap="round"/>
<path d="M263.7,940.8 L269.9,934.6 L280.8,927.6 L293.2,927.6 L307.2,932.3 L308.8,951.7 L320.4,957.9 L320.4,978.9 L304.1,987.4 L302.6,1003.0 L297.9,1015.4 L293.2,1018.5 L292.9,1023.1 L282.4,1028.1" fill="none" stroke="#444" stroke-width="1.4" stroke-linejoin="round" stroke-linecap="round"/>
<path d="M217.1,903.5 L224.9,911.3 L237.3,912.8" fill="none" stroke="#222" stroke-width="1.2" stroke-linejoin="round" stroke-linecap="round"/>
<path d="M217.1,921.4 L226.4,916.7 L238.0,913.6" fill="none" stroke="#222" stroke-width="1.2" stroke-linejoin="round" stroke-linecap="round"/>
<path d="M224.9,893.4 L235.7,900.4 L238.0,906.6 L238.8,913.6" fill="none" stroke="#222" stroke-width="1.2" stroke-linejoin="round" stroke-linecap="round"/>
<path d="M234.2,888.7 L235.7,898.8" fill="none" stroke="#222" stroke-width="1.2" stroke-linejoin="round" stroke-linecap="round"/>
<path d="M241.2,887.2 L238.0,900.4 L240.4,911.3" fill="none" stroke="#222" stroke-width="1.2" stroke-linejoin="round" stroke-linecap="round"/>
<path d="M246.6,893.4 L245.0,902.0 L246.6,911.3 L259.0,928.4 L262.2,937.7" fill="none" stroke="#222" stroke-width="1.2" stroke-linejoin="round" stroke-linecap="round"/>
<path d="M259.0,899.6 L246.6,903.5" fill="none" stroke="#222" stroke-width="1.2" stroke-linejoin="round" stroke-linecap="round"/>
<path d="M238.8,914.4 L243.5,926.8 L248.2,937.7 L255.2,948.6 L261.4,948.6 L263.7,940.8" fill="none" stroke="#222" stroke-width="1.2" stroke-linejoin="round" stroke-linecap="round"/>
<path d="M245.0,911.3 L246.6,922.2 L259.0,936.1" fill="none" stroke="#222" stroke-width="1.2" stroke-linejoin="round" stroke-linecap="round"/>
<circle cx="318.2" cy="717.2" r="8.0" fill="#2AF2FC"/>
<circle cx="263.8" cy="755.9" r="8.0" fill="#F7923A"/>
<circle cx="252.4" cy="788.5" r="8.0" fill="#B9591C"/>
<circle cx="372.4" cy="774" r="8.0" fill="#169E3E"/>
<circle cx="137.6" cy="934" r="8.0" fill="#4F36CC"/>
<circle cx="124.3" cy="957.7" r="8.0" fill="#FFFF22"/>
<circle cx="107.3" cy="958" r="8.0" fill="#F21212"/>
<circle cx="75.4" cy="972" r="8.0" fill="#FF2AEC"/>
<circle cx="8" cy="986.5" r="8.0" fill="#787878"/>
<line x1="477" y1="1132.6" x2="555" y2="1132.6" stroke="#444" stroke-width="2.7" stroke-linecap="butt"/>
<line x1="477.2" y1="1128.2" x2="477.2" y2="1137.6" stroke="#444" stroke-width="2.4" stroke-linecap="butt"/>
<line x1="554.8" y1="1128.2" x2="554.8" y2="1137.6" stroke="#444" stroke-width="2.4" stroke-linecap="butt"/>
<line x1="516" y1="1133" x2="516" y2="1136" stroke="#444" stroke-width="1.6" stroke-linecap="butt"/>
<text x="497.2" y="1159.8" font-size="20" fill="#444" textLength="24.6" lengthAdjust="spacingAndGlyphs" font-weight="bold">0.1</text>
<rect x="1860.3" y="343.6" width="16.6" height="87.2" fill="#EEEEEE" stroke="#161616" stroke-width="1.3"/>
<rect x="1860.3" y="432.2" width="16.6" height="23.2" fill="#A8A8A8" stroke="#161616" stroke-width="1.3"/>
<rect x="1860.3" y="463.0" width="16.6" height="54.5" fill="#EEEEEE" stroke="#161616" stroke-width="1.3"/>
<rect x="1860.3" y="527.8" width="16.6" height="139.6" fill="#A8A8A8" stroke="#161616" stroke-width="1.3"/>
<rect x="1860.3" y="670.4" width="16.6" height="55.2" fill="#EEEEEE" stroke="#161616" stroke-width="1.3"/>
<rect x="1860.3" y="729.7" width="16.6" height="25.9" fill="#A8A8A8" stroke="#161616" stroke-width="1.3"/>
<rect x="1860.3" y="761.5" width="16.6" height="26.9" fill="#EEEEEE" stroke="#161616" stroke-width="1.3"/>
<rect x="1860.3" y="793.6" width="16.6" height="54.5" fill="#A8A8A8" stroke="#161616" stroke-width="1.3"/>
<rect x="1860.3" y="878.2" width="16.6" height="117.3" fill="#A8A8A8"/>
<rect x="1860.3" y="853.3" width="16.6" height="24.9" fill="#EEEEEE"/>
<rect x="1860.3" y="853.3" width="16.6" height="142.2" fill="none" stroke="#161616" stroke-width="1.3"/>
<rect x="1895.5" y="343.6" width="16.6" height="87.2" fill="#EEEEEE" stroke="#161616" stroke-width="1.3"/>
<rect x="1895.5" y="432.2" width="16.6" height="23.2" fill="#A8A8A8" stroke="#161616" stroke-width="1.3"/>
<rect x="1895.5" y="466.4" width="16.6" height="23.1" fill="#EEEEEE" stroke="#161616" stroke-width="1.3"/>
<rect x="1895.5" y="494.7" width="16.6" height="22.4" fill="#A8A8A8" stroke="#161616" stroke-width="1.3"/>
<rect x="1895.5" y="527.8" width="16.6" height="139.6" fill="#A8A8A8" stroke="#161616" stroke-width="1.3"/>
<rect x="1895.5" y="670.4" width="16.6" height="55.2" fill="#EEEEEE" stroke="#161616" stroke-width="1.3"/>
<rect x="1895.5" y="729.7" width="16.6" height="25.9" fill="#A8A8A8" stroke="#161616" stroke-width="1.3"/>
<rect x="1895.5" y="761.5" width="16.6" height="26.9" fill="#EEEEEE" stroke="#161616" stroke-width="1.3"/>
<rect x="1895.5" y="793.6" width="16.6" height="54.5" fill="#A8A8A8" stroke="#161616" stroke-width="1.3"/>
<rect x="1895.5" y="878.2" width="16.6" height="117.3" fill="#A8A8A8"/>
<rect x="1895.5" y="853.3" width="16.6" height="24.9" fill="#EEEEEE"/>
<rect x="1895.5" y="853.3" width="16.6" height="142.2" fill="none" stroke="#161616" stroke-width="1.3"/>
<rect x="1929.0" y="343.6" width="16.6" height="87.2" fill="#EEEEEE" stroke="#161616" stroke-width="1.3"/>
<rect x="1929.0" y="432.2" width="16.6" height="23.2" fill="#A8A8A8" stroke="#161616" stroke-width="1.3"/>
<rect x="1929.0" y="463.0" width="16.6" height="54.5" fill="#EEEEEE" stroke="#161616" stroke-width="1.3"/>
<rect x="1929.0" y="527.8" width="16.6" height="53.5" fill="#EEEEEE" stroke="#161616" stroke-width="1.3"/>
<rect x="1929.0" y="586.5" width="16.6" height="80.9" fill="#A8A8A8" stroke="#161616" stroke-width="1.3"/>
<rect x="1929.0" y="670.4" width="16.6" height="55.2" fill="#EEEEEE" stroke="#161616" stroke-width="1.3"/>
<rect x="1929.0" y="729.7" width="16.6" height="25.9" fill="#A8A8A8" stroke="#161616" stroke-width="1.3"/>
<rect x="1929.0" y="761.5" width="16.6" height="26.9" fill="#EEEEEE" stroke="#161616" stroke-width="1.3"/>
<rect x="1929.0" y="793.6" width="16.6" height="54.5" fill="#A8A8A8" stroke="#161616" stroke-width="1.3"/>
<rect x="1929.0" y="878.2" width="16.6" height="117.3" fill="#A8A8A8"/>
<rect x="1929.0" y="853.3" width="16.6" height="24.9" fill="#EEEEEE"/>
<rect x="1929.0" y="853.3" width="16.6" height="142.2" fill="none" stroke="#161616" stroke-width="1.3"/>
<text x="1845.5" y="317" font-size="18" fill="#000" textLength="46.5" lengthAdjust="spacingAndGlyphs" class="k" style="stroke-width:0.45px">ASAP</text>
<text x="1846.8" y="341.6" font-size="18.4" fill="#000" textLength="31.8" lengthAdjust="spacingAndGlyphs" class="k" style="stroke-width:0.45px">PTP</text>
<text x="1884.4" y="341.6" font-size="18.4" fill="#000" textLength="44.2" lengthAdjust="spacingAndGlyphs" class="k" style="stroke-width:0.45px">bPTP</text>
<text x="1931.4" y="341.6" font-size="18.4" fill="#000" textLength="57.5" lengthAdjust="spacingAndGlyphs" class="k" style="stroke-width:0.45px">GMYC</text>
</svg>
</body></html>
